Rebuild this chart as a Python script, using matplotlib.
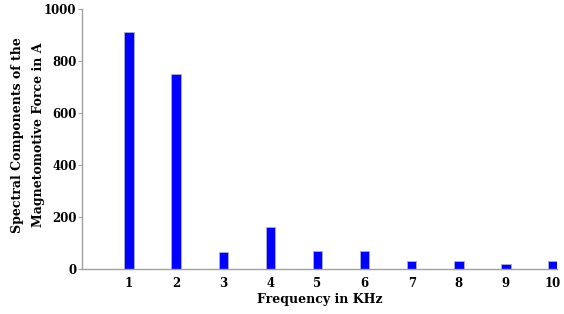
import matplotlib
matplotlib.use("Agg")
import matplotlib.pyplot as plt

freqs = [1, 2, 3, 4, 5, 6, 7, 8, 9, 10]
values = [910, 750, 67, 161, 68, 71, 32, 32, 18, 30]
yticks = [0, 200, 400, 600, 800, 1000]

plt.rcParams['font.family'] = ['DejaVu Serif']
plt.rcParams['font.weight'] = 'bold'

fig = plt.figure(figsize=(5.64, 3.14), dpi=100)
ax = fig.add_axes([0.1454, 0.1433, 0.8422, 0.828])
ax.bar(freqs, values, width=0.2, color='#0000FF', edgecolor='#b0b0d0', linewidth=0.6)
ax.set_xlim(0, 10.085)
ax.set_ylim(0, 1000)
ax.set_xticks(freqs)
ax.set_yticks(yticks)
ax.tick_params(axis='x', length=0, labelsize=8.5, pad=6)
ax.tick_params(axis='y', length=3, color='#a0a0a0', labelsize=8.5, pad=1)
for lab in ax.get_xticklabels() + ax.get_yticklabels():
    lab.set_fontweight('bold')
    lab.set_family('DejaVu Serif')
for s in ['top', 'right']:
    ax.spines[s].set_visible(False)
for s in ['left', 'bottom']:
    ax.spines[s].set_color('#a0a0a0')
    ax.spines[s].set_linewidth(1.0)
ax.set_xlabel('Frequency in KHz', fontsize=9, fontweight='bold', family='DejaVu Serif', labelpad=2)
fig.text(28 / 564, 1 - 135 / 314, 'Spectral Components of the\nMagnetomotive Force in A',
         rotation=90, ha='center', va='center', fontsize=9, fontweight='bold',
         family='DejaVu Serif', linespacing=1.75, multialignment='center')
fig.savefig('out.png', dpi=100)
